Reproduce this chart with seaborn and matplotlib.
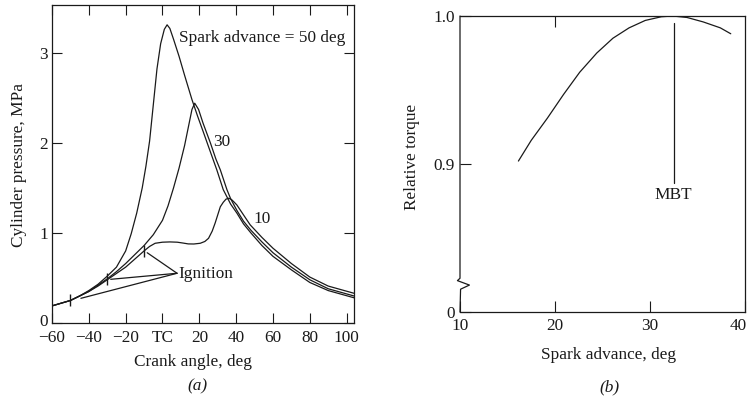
import numpy as np
import pandas as pd
import matplotlib
matplotlib.use("Agg")
import matplotlib.pyplot as plt
import matplotlib.transforms as mtransforms
import seaborn as sns

# ---------------- data ----------------
# Panel (a): cylinder pressure (MPa) vs crank angle (deg)
angle_50 = [-60, -55, -50, -45, -40, -35, -30, -25, -20, -17, -14, -11, -9, -7, -5, -3, -1, 1,
            2.5, 4, 6, 9, 12, 16, 19, 22, 26, 29.5, 33, 35, 37, 40.4, 44, 48, 54, 60, 70, 80, 90, 104]
press_50 = [0.19, 0.22, 0.25, 0.30, 0.36, 0.43, 0.52, 0.62, 0.80, 0.99, 1.22, 1.50, 1.74, 2.02, 2.42, 2.82, 3.10, 3.26,
            3.31, 3.27, 3.15, 2.96, 2.75, 2.48, 2.30, 2.13, 1.90, 1.70, 1.48, 1.40, 1.32, 1.22, 1.10, 1.00, 0.86, 0.74, 0.59, 0.45, 0.36, 0.28]

angle_30 = [-60, -55, -50, -45, -40, -35, -30, -25, -20, -15, -10, -5, 0, 3, 6, 9, 12,
            14.5, 16, 17.5, 19.6, 22, 26, 29, 31.4, 35, 37, 40.4, 44, 48, 54, 60, 70, 80, 90, 104]
press_30 = [0.19, 0.22, 0.25, 0.30, 0.35, 0.42, 0.49, 0.57, 0.66, 0.76, 0.86, 0.98, 1.14, 1.30, 1.50, 1.72, 1.97,
            2.22, 2.37, 2.44, 2.37, 2.22, 2.00, 1.82, 1.70, 1.48, 1.38, 1.25, 1.13, 1.03, 0.90, 0.78, 0.62, 0.48, 0.38, 0.30]

angle_10 = [-60, -55, -50, -45, -40, -35, -30, -25, -20, -15, -10, -7, -4, 0, 4, 8, 11, 14, 17,
            20.5, 23, 25, 27, 28.6, 30, 31.4, 33, 34.5, 36, 37.5, 39, 40.4, 44, 47.6, 54, 60, 70, 80, 90, 104]
press_10 = [0.19, 0.22, 0.25, 0.30, 0.35, 0.41, 0.48, 0.55, 0.62, 0.71, 0.80, 0.85, 0.885, 0.897, 0.90, 0.897, 0.888, 0.878, 0.877,
            0.885, 0.905, 0.94, 1.02, 1.11, 1.20, 1.29, 1.34, 1.375, 1.385, 1.37, 1.34, 1.31, 1.20, 1.09, 0.95, 0.83, 0.66, 0.51, 0.41, 0.33]

ign_angle = [-50, -30, -10]
ign_press = [0.25, 0.49, 0.80]

xtick_vals = [-60, -40, -20, 0, 20, 40, 60, 80, 100]
xtick_labels = ["\u221260", "\u221240", "\u221220", "TC", "20", "40", "60", "80", "100"]
ytick_vals_a = [0, 1, 2, 3]

# Panel (b): relative torque vs spark advance
spark = [16.15, 17.5, 19.2, 20.9, 22.6, 24.4, 26.1, 27.8, 29.5, 31.2, 32.4, 33.9, 35.6, 37.4, 38.5]
torque = [0.902, 0.916, 0.931, 0.947, 0.962, 0.975, 0.985, 0.992, 0.997, 0.9995, 1.0, 0.999, 0.996, 0.992, 0.988]
mbt_advance = 32.5
xtick_vals_b = [10, 20, 30, 40]
ytick_vals_b = [0.8, 0.9, 1.0]
ytick_labels_b = ["0", "0.9", "1.0"]

# ---------------- style ----------------
sns.set_theme(style="white")
plt.rcParams["font.family"] = ["Liberation Serif", "DejaVu Serif"]
plt.rcParams["axes.unicode_minus"] = True
FS = 12.4
INK = "#1a1a1a"

fig = plt.figure(figsize=(7.51, 3.98), dpi=100)
W, H = 751, 398
axa = fig.add_axes([52 / W, 1 - 323 / H, (354 - 52) / W, (323 - 5) / H])
axb = fig.add_axes([460 / W, 1 - 312 / H, (745 - 460) / W, (312 - 16) / H])

# ---------------- panel (a) ----------------
frames = []
for adv, a, p in [(50, angle_50, press_50), (30, angle_30, press_30), (10, angle_10, press_10)]:
    frames.append(pd.DataFrame({"angle": a, "pressure": p, "advance": adv}))
df = pd.concat(frames, ignore_index=True)
sns.lineplot(data=df, x="angle", y="pressure", units="advance", estimator=None, sort=False,
             color=INK, linewidth=0.9, ax=axa, legend=False)
sns.scatterplot(x=ign_angle, y=ign_press, marker="|", s=70, color=INK, linewidth=1.0, ax=axa, legend=False, zorder=5)

axa.set_xlim(-60, 104)
axa.set_ylim(0, 3.53)
axa.set_xticks(xtick_vals, xtick_labels)
axa.set_yticks(ytick_vals_a)
axa.tick_params(direction="in", length=7, width=0.8, colors=INK, labelsize=FS,
                top=True, right=True, bottom=True, left=True)
axa.tick_params(axis="x", pad=5)
axa.tick_params(axis="y", pad=3)
for s in axa.spines.values():
    s.set_linewidth(0.9)
    s.set_color(INK)
axa.set_xlabel("")
axa.set_ylabel("")

# nudge the crowded corner labels apart
zero_lab = axa.get_yticklabels()[0]
zero_lab.set_transform(zero_lab.get_transform() + mtransforms.ScaledTranslation(0, 3 / 100, fig.dpi_scale_trans))

axa.text(9.0, 3.16, "Spark advance = 50 deg", fontsize=FS, ha="left", va="center", color=INK)
axa.text(27.4, 2.01, "30", fontsize=FS, ha="left", va="center", color=INK)
axa.text(49.4, 1.15, "10", fontsize=FS, ha="left", va="center", color=INK)
axa.text(8.8, 0.545, "Ignition", fontsize=FS, ha="left", va="center", color=INK)
for (tx, ty) in [(-8.3, 0.78), (-28.1, 0.485), (-44.3, 0.274)]:
    axa.annotate("", xy=(tx, ty), xytext=(7.9, 0.552),
                 arrowprops=dict(arrowstyle="-", color=INK, lw=0.9, shrinkA=0, shrinkB=0))

fig.text(19 / W, 1 - 165 / H, "Cylinder pressure, MPa", rotation=90, ha="center", va="center",
         fontsize=FS, color=INK)
fig.text(193 / W, 1 - 362 / H, "Crank angle, deg", ha="center", va="center", fontsize=FS, color=INK)
fig.text(197 / W, 1 - 386 / H, "(a)", ha="center", va="center", fontsize=FS, color=INK, style="italic")

# ---------------- panel (b) ----------------
sns.lineplot(x=spark, y=torque, sort=False, color=INK, linewidth=0.9, ax=axb, legend=False)
axb.plot([mbt_advance, mbt_advance], [0.887, 0.995], color=INK, lw=0.9)
axb.text(mbt_advance, 0.879, "MBT", fontsize=FS, ha="center", va="center", color=INK)

axb.set_xlim(10, 40)
axb.set_ylim(0.8, 1.0)
axb.set_xticks(xtick_vals_b)
axb.set_yticks(ytick_vals_b, ytick_labels_b)
axb.tick_params(direction="in", length=8, width=0.8, colors=INK, labelsize=FS,
                bottom=True, left=True, pad=4)
last_lab = axb.get_xticklabels()[-1]
last_lab.set_transform(last_lab.get_transform() + mtransforms.ScaledTranslation(-7 / 100, 0, fig.dpi_scale_trans))
sec = axb.secondary_xaxis("top")
sec.set_xticks([20])
sec.tick_params(direction="in", length=8, width=0.8, colors=INK, labeltop=False)
sec.spines["top"].set_visible(False)
for s in axb.spines.values():
    s.set_linewidth(0.9)
    s.set_color(INK)
axb.spines["left"].set_visible(False)
# left spine with axis-break zigzag
zz_x = [0, 0, -0.009, 0.033, 0.002, 0]
zz_y = [1, 0.114, 0.106, 0.091, 0.077, 0]
axb.plot(zz_x, zz_y, transform=axb.transAxes, color=INK, lw=0.9, clip_on=False)
axb.set_xlabel("")
axb.set_ylabel("")

fig.text(412 / W, 1 - 157 / H, "Relative torque", rotation=90, ha="center", va="center",
         fontsize=FS, color=INK)
fig.text(609 / W, 1 - 355 / H, "Spark advance, deg", ha="center", va="center", fontsize=FS, color=INK)
fig.text(609 / W, 1 - 387 / H, "(b)", ha="center", va="center", fontsize=FS, color=INK, style="italic")

fig.savefig("out.png", dpi=100, facecolor="white")
